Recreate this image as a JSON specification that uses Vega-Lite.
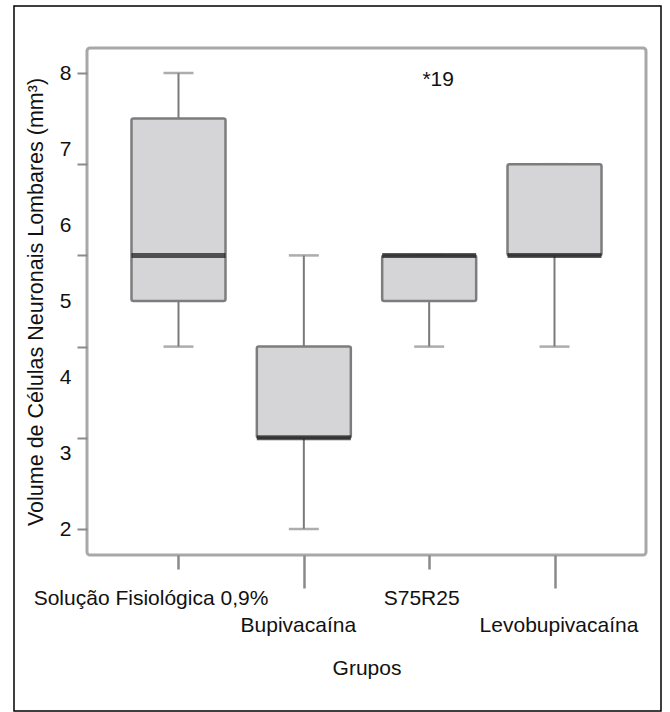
{
  "$schema": "https://vega.github.io/schema/vega-lite/v6.json",
  "autosize": "none",
  "width": 559,
  "height": 507,
  "padding": {"left": 87, "top": 48, "right": 24, "bottom": 157},
  "background": "white",
  "config": {
    "font": "Liberation Sans",
    "view": {"stroke": "#a8a8a8", "strokeWidth": 3, "cornerRadius": 3},
    "axis": {"labelFont": "Liberation Sans", "titleFont": "Liberation Sans", "labelColor": "#111", "titleColor": "#111", "titleFontWeight": "normal"}
  },
  "datasets": {
    "boxes": [
      {"grupo": "Solução Fisiológica 0,9%", "min": 4.4, "q1": 5.0, "median": 5.6, "q3": 7.4, "max": 8.0},
      {"grupo": "Bupivacaína", "min": 2.0, "q1": 3.2, "median": 3.2, "q3": 4.4, "max": 5.6},
      {"grupo": "S75R25", "min": 4.4, "q1": 5.0, "median": 5.6, "q3": 5.6, "max": 5.6},
      {"grupo": "Levobupivacaína", "min": 4.4, "q1": 5.6, "median": 5.6, "q3": 6.8, "max": 6.8}
    ],
    "outliers": [
      {"grupo": "S75R25", "valor": 7.91, "rotulo": "*19"}
    ]
  },
  "data": {"name": "boxes"},
  "encoding": {
    "x": {
      "field": "grupo",
      "type": "nominal",
      "sort": ["Solução Fisiológica 0,9%", "Bupivacaína", "S75R25", "Levobupivacaína"],
      "scale": {"type": "point", "padding": 0.73, "align": 0.5},
      "axis": {
        "title": "Grupos",
        "titleFontSize": 21,
        "titlePadding": 22,
        "labelFontSize": 21,
        "labelAngle": 0,
        "labelLimit": 0,
        "domain": false,
        "tickColor": "#8a8a8a",
        "tickWidth": 2.5,
        "tickSize": {"condition": {"test": "indexof(['Bupivacaína','Levobupivacaína'], datum.value) >= 0", "value": 33}, "value": 14},
        "labelPadding": {"condition": {"test": "indexof(['Bupivacaína','Levobupivacaína'], datum.value) >= 0", "value": 26}, "value": 18},
        "labelOffset": {
          "condition": [
            {"test": "datum.value == 'Solução Fisiológica 0,9%'", "value": -28},
            {"test": "datum.value == 'Bupivacaína'", "value": -6},
            {"test": "datum.value == 'S75R25'", "value": -8}
          ],
          "value": 4
        },
        "labelOverlap": false,
        "labelBound": false,
        "labelFlush": false
      }
    }
  },
  "layer": [
    {
      "data": {"values": [{}]},
      "mark": {"type": "rect", "fill": null, "stroke": "black", "strokeWidth": 1.5, "clip": false},
      "encoding": {
        "x": {"value": -73},
        "x2": {"value": 574},
        "y": {"value": -42},
        "y2": {"value": 663}
      }
    },
    {
      "mark": {"type": "rule", "color": "#7a7a7a", "strokeWidth": 2},
      "encoding": {
        "y": {
          "field": "min",
          "type": "quantitative",
          "scale": {"domain": [1.658, 8.329], "nice": false, "zero": false},
          "axis": {
            "title": "Volume de Células Neuronais Lombares (mm³)",
            "titleFontSize": 21.5,
            "titlePadding": 12,
            "labelFontSize": 21,
            "values": [2, 3, 3.2, 4, 4.4, 5, 5.6, 6, 6.8, 7, 8],
            "labelExpr": "datum.value % 1 == 0 ? format(datum.value, 'd') : ''",
            "tickOpacity": {"condition": {"test": "indexof([2, 3.2, 4.4, 5.6, 6.8, 8], datum.value) >= 0", "value": 1}, "value": 0},
            "labelOverlap": false,
            "labelBound": false,
            "labelFlush": false,
            "offset": 0,
            "tickSize": 10,
            "tickColor": "#8a8a8a",
            "tickWidth": 2,
            "labelPadding": 6,
            "domain": false,
            "grid": false
          }
        },
        "y2": {"field": "q1"}
      }
    },
    {
      "mark": {"type": "rule", "color": "#7a7a7a", "strokeWidth": 2},
      "encoding": {
        "y": {"field": "q3", "type": "quantitative"},
        "y2": {"field": "max"}
      }
    },
    {
      "mark": {"type": "tick", "color": "#8a8a8a", "size": 30, "thickness": 2.5, "orient": "horizontal"},
      "encoding": {"y": {"field": "min", "type": "quantitative"}}
    },
    {
      "mark": {"type": "tick", "color": "#8a8a8a", "size": 30, "thickness": 2.5, "orient": "horizontal"},
      "encoding": {"y": {"field": "max", "type": "quantitative"}}
    },
    {
      "mark": {"type": "bar", "size": 94, "fill": "#d5d5d8", "stroke": "#7d7d7d", "strokeWidth": 2.5, "cornerRadius": 2},
      "encoding": {
        "y": {"field": "q1", "type": "quantitative"},
        "y2": {"field": "q3"}
      }
    },
    {
      "mark": {"type": "tick", "color": "#151515", "size": 94, "thickness": 5, "orient": "horizontal"},
      "encoding": {"y": {"field": "median", "type": "quantitative"}}
    },
    {
      "data": {"name": "outliers"},
      "mark": {"type": "text", "fontSize": 21, "font": "Liberation Sans", "color": "#111", "dx": 9},
      "encoding": {
        "y": {"field": "valor", "type": "quantitative"},
        "text": {"field": "rotulo"}
      }
    }
  ]
}
